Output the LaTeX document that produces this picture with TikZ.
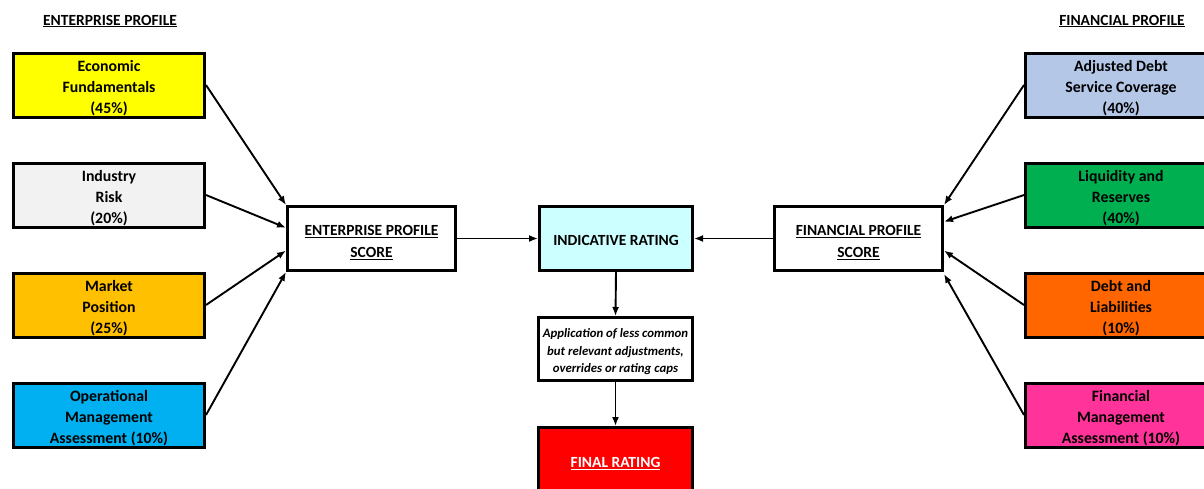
\documentclass[tikz,border=0pt]{standalone}
\usepackage{fontspec}
\setmainfont{Carlito}
\usetikzlibrary{arrows.meta,calc}
\definecolor{cYellow}{HTML}{FFFF00}
\definecolor{cGray}{HTML}{F2F2F2}
\definecolor{cGold}{HTML}{FFC000}
\definecolor{cCyan}{HTML}{00B0F0}
\definecolor{cLBlue}{HTML}{B4C7E7}
\definecolor{cGreen}{HTML}{00B050}
\definecolor{cOrange}{HTML}{FF6600}
\definecolor{cPink}{HTML}{FF3399}
\definecolor{cIce}{HTML}{CCFFFF}
\definecolor{cRed}{HTML}{FF0000}
\newcommand\tstrut[1]{\rule{0pt}{#1}}
\begin{document}
\begin{tikzpicture}[x=1pt,y=-1pt,
  box/.style={draw=black, line width=3pt, minimum width=191pt, minimum height=64pt, align=center, inner sep=0pt, font=\bfseries\fontsize{15.8}{21}\selectfont},
  mid/.style={draw=black, line width=3pt, minimum height=64pt, align=center, inner sep=0pt, font=\bfseries\fontsize{15.5}{22}\selectfont},
  hdr/.style={font=\bfseries\fontsize{15.5}{18}\selectfont, inner sep=0pt},
  arr/.style={line width=1.9pt, -{Latex[length=9pt,width=7pt]}}]
\useasboundingbox (0,0) rectangle (1204,488);

% headers
\node[hdr] (hL) at (110,21) {\underline{ENTERPRISE PROFILE}};
\node[hdr] (hR) at (1122,21) {\underline{FINANCIAL PROFILE}};

% left boxes
\node[box, fill=cYellow] (l1) at (109,85) {\tstrut{17pt}Economic\\Fundamentals\\(45\%)};
\node[box, fill=cGray] (l2) at (109,195) {\tstrut{17pt}Industry\\Risk\\(20\%)};
\node[box, fill=cGold] (l3) at (109,305) {\tstrut{17pt}Market\\Position\\(25\%)};
\node[box, fill=cCyan] (l4) at (109,415) {\tstrut{17pt}Operational\\Management\\Assessment (10\%)};

% right boxes
\node[box, fill=cLBlue] (r1) at (1121,85) {\tstrut{17pt}Adjusted Debt\\Service Coverage\\(40\%)};
\node[box, fill=cGreen] (r2) at (1121,195) {\tstrut{17pt}Liquidity and\\Reserves\\(40\%)};
\node[box, fill=cOrange] (r3) at (1121,305) {\tstrut{17pt}Debt and\\Liabilities\\(10\%)};
\node[box, fill=cPink] (r4) at (1121,415) {\tstrut{17pt}Financial\\Management\\Assessment (10\%)};

% middle
\node[mid, fill=white, minimum width=168pt] (ent) at (371.5,238.5) {\tstrut{18pt}\underline{ENTERPRISE PROFILE}\\\underline{SCORE}};
\node[mid, fill=cIce, minimum width=153pt] (ind) at (616,238.5) {\tstrut{14pt}INDICATIVE RATING};
\node[mid, fill=white, minimum width=168pt] (fin) at (858.5,238.5) {\tstrut{18pt}\underline{FINANCIAL PROFILE}\\\underline{SCORE}};
\node[mid, fill=white, minimum width=154pt, minimum height=63pt, font=\bfseries\itshape\fontsize{12.8}{17.5}\selectfont] (app) at (615.5,349) {\tstrut{15pt}Application of less common\\but relevant adjustments,\\overrides or rating caps};
\node[mid, fill=cRed, minimum width=154pt, text=white] (fr) at (615.5,459.5) {\tstrut{18pt}\underline{FINAL RATING}};

% target coordinates
\coordinate (e1) at (ent.north west);
\coordinate (e2) at ($(ent.north west)!0.34!(ent.south west)$);
\coordinate (e3) at ($(ent.north west)!0.68!(ent.south west)$);
\coordinate (e4) at (ent.south west);
\coordinate (f1) at (fin.north east);
\coordinate (f2) at ($(fin.north east)!0.25!(fin.south east)$);
\coordinate (f3) at ($(fin.north east)!0.68!(fin.south east)$);
\coordinate (f4) at ($(fin.north east)!1.03!(fin.south east)$);

% connectors
\draw[arr] (l1.east) -- (e1);
\draw[arr] (l2.east) -- (e2);
\draw[arr] (l3.east) -- (e3);
\draw[arr] (l4.east) -- (e4);
\draw[arr] (r1.west) -- (f1);
\draw[arr] (r2.west) -- (f2);
\draw[arr] (r3.west) -- (f3);
\draw[arr] (r4.west) -- (f4);
\draw[arr] (ent.east) -- (ind.west);
\draw[arr] (fin.west) -- (ind.east);
\draw[arr] (ind.south) -- (app.north);
\draw[arr] (app.south) -- (fr.north);
\end{tikzpicture}
\end{document}
